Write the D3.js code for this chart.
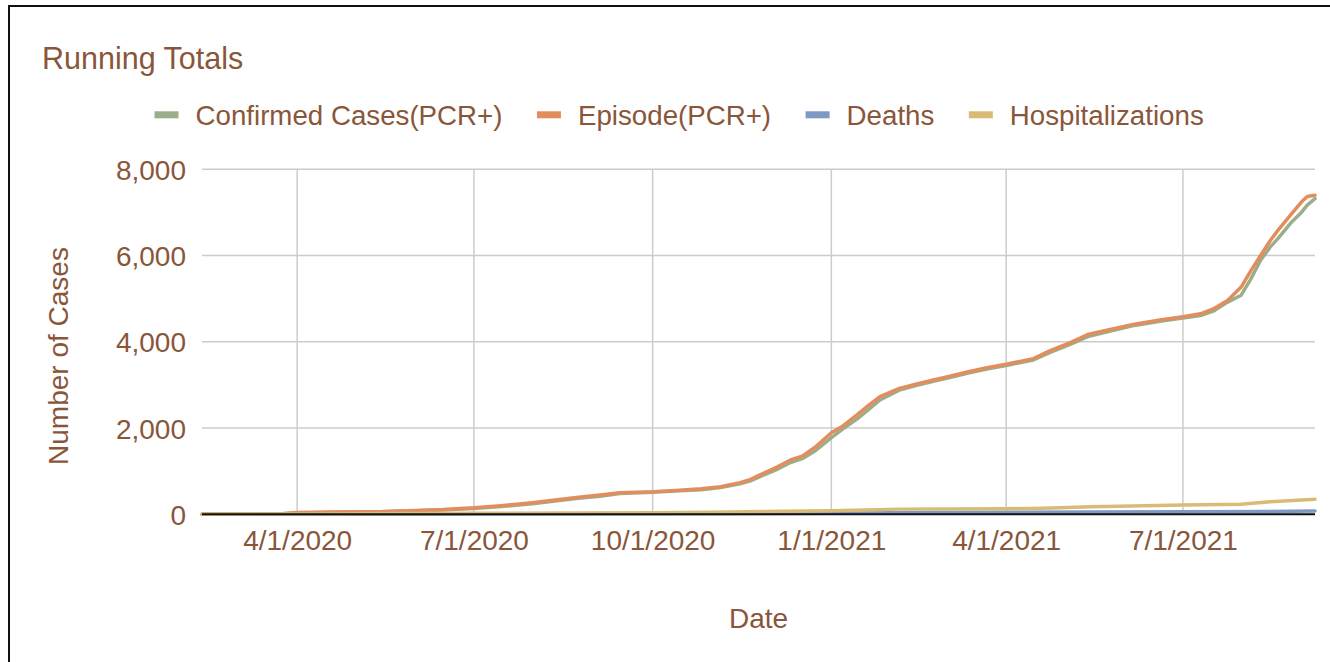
<!DOCTYPE html>
<html>
<head>
<meta charset="utf-8">
<script src="https://cdn.jsdelivr.net/npm/d3@7"></script>
<style>
  html, body { margin: 0; padding: 0; background: #fff; }
  svg { display: block; font-family: "Liberation Sans", Arial, sans-serif; }
</style>
</head>
<body>
<svg id="chart" width="1330" height="662"></svg>
<script>
// series names + colours
var seriesNames = ["Confirmed Cases(PCR+)", "Episode(PCR+)", "Deaths", "Hospitalizations"];
var seriesColors = ["#9bae89", "#e38d5f", "#7f97c3", "#d8bc76"];

// cases
var caseDates = ["2020-02-12","2020-03-10","2020-03-25","2020-04-01","2020-04-20","2020-05-15","2020-06-01","2020-06-15","2020-07-01","2020-07-15",
  "2020-07-31","2020-08-15","2020-08-25","2020-09-04","2020-09-14","2020-10-01","2020-10-15","2020-10-26","2020-11-05","2020-11-15",
  "2020-11-20","2020-11-25","2020-12-03","2020-12-11","2020-12-17","2020-12-24","2021-01-01","2021-01-07","2021-01-14","2021-01-20",
  "2021-01-26","2021-02-05","2021-02-14","2021-02-22","2021-03-03","2021-03-12","2021-03-22","2021-04-01","2021-04-15","2021-04-24",
  "2021-05-04","2021-05-13","2021-05-21","2021-06-06","2021-06-20","2021-07-01","2021-07-10","2021-07-17","2021-07-24","2021-07-31",
  "2021-08-05","2021-08-10","2021-08-15","2021-08-19","2021-08-26","2021-08-31","2021-09-03","2021-09-07"];
var episodeVals = [0,2,20,40,55,65,90,110,150,200,
  270,350,400,447,500,525,560,590,640,735,
  800,910,1070,1260,1350,1570,1890,2050,2300,2520,
  2730,2920,3020,3110,3200,3300,3400,3480,3610,3800,
  3980,4170,4250,4410,4510,4580,4650,4770,4960,5270,
  5650,6000,6350,6590,6970,7240,7370,7400];
var confirmedVals = [0,0,15,30,50,60,80,100,135,180,
  245,325,375,420,480,510,545,570,620,705,
  770,870,1020,1200,1290,1480,1780,1980,2200,2420,
  2650,2880,2990,3080,3170,3270,3370,3450,3580,3760,
  3940,4120,4210,4380,4480,4550,4610,4720,4920,5080,
  5460,5890,6200,6400,6780,7000,7170,7320];

// hospitalizations / deaths
var hospDates = ["2020-02-12","2020-04-01","2020-07-01","2020-10-01","2020-11-01","2021-01-01","2021-02-05","2021-04-01","2021-04-20","2021-05-15","2021-07-01","2021-07-31","2021-08-15","2021-09-07"];
var hospVals = [0,8,23,37,48,85,120,128,140,176,215,232,290,350];
var deathDates = ["2020-02-12","2020-04-01","2020-07-01","2020-10-01","2021-01-01","2021-02-15","2021-04-01","2021-07-01","2021-08-15","2021-09-07"];
var deathVals = [0,2,6,12,25,40,48,58,65,78];

var xTickDates = ["2020-04-01","2020-07-01","2020-10-01","2021-01-01","2021-04-01","2021-07-01"];
var yTicks = [0, 2000, 4000, 6000, 8000];

var parse = d3.timeParse("%Y-%m-%d");
var textColor = "#8a5639";

var svg = d3.select("#chart");

// frame (top + left edge only)
svg.append("path")
    .attr("d", "M9,662V6H1330")
    .attr("fill", "none")
    .attr("stroke", "#111")
    .attr("stroke-width", 2);

var plotLeft = 202, plotRight = 1315, plotTop = 169.3, plotBottom = 514.3;

var x = d3.scaleTime()
    .domain([parse("2020-02-12"), parse("2021-09-07")])
    .range([plotLeft, plotRight]);
var y = d3.scaleLinear()
    .domain([0, 8000])
    .range([plotBottom, plotTop]);

// gridlines
var grid = svg.append("g").attr("class", "grid");
grid.selectAll("line.h").data(yTicks).enter().append("line")
    .attr("class", "h")
    .attr("x1", plotLeft).attr("x2", plotRight)
    .attr("y1", d => y(d)).attr("y2", d => y(d))
    .style("stroke", "#cccccc").style("stroke-width", "1.5px");
grid.selectAll("line.v").data(xTickDates).enter().append("line")
    .attr("class", "v")
    .attr("x1", d => x(parse(d))).attr("x2", d => x(parse(d)))
    .attr("y1", plotTop).attr("y2", plotBottom)
    .style("stroke", "#cccccc").style("stroke-width", "1.5px");

// axes via d3 (domain/ticks hidden, labels restyled)
var yAxis = svg.append("g")
    .attr("transform", `translate(${plotLeft - 16},0)`)
    .call(d3.axisLeft(y).tickValues(yTicks).tickFormat(d3.format(",")).tickSize(0).tickPadding(0));
var xAxis = svg.append("g")
    .attr("transform", `translate(0,${plotBottom})`)
    .call(d3.axisBottom(x).tickValues(xTickDates.map(parse)).tickFormat(d3.timeFormat("%-m/%-d/%Y")).tickSize(0).tickPadding(0));
[yAxis, xAxis].forEach(function(a){
    a.select(".domain").remove();
    a.selectAll("text")
        .attr("fill", textColor)
        .style("font-size", "28px")
        .style("font-family", "'Liberation Sans', Arial, sans-serif");
});
yAxis.selectAll("text").attr("dy", "0.36em");
xAxis.selectAll("text").attr("dy", null).attr("y", 36);

// lines
function makeLine(dates, vals){
    return d3.line()
        .x((d, i) => x(parse(dates[i])))
        .y(d => y(d))(vals);
}
var linesG = svg.append("g").attr("class", "lines");
var lineData = [
    {dates: caseDates, vals: confirmedVals, color: seriesColors[0]},
    {dates: caseDates, vals: episodeVals, color: seriesColors[1]},
    {dates: deathDates, vals: deathVals, color: seriesColors[2]},
    {dates: hospDates, vals: hospVals, color: seriesColors[3]}
];
linesG.selectAll("path").data(lineData).enter().append("path")
    .attr("d", d => makeLine(d.dates, d.vals))
    .attr("fill", "none")
    .attr("stroke", d => d.color)
    .attr("stroke-width", 3.5)
    .attr("stroke-linejoin", "round")
    .attr("stroke-linecap", "round");

// baseline
svg.append("line")
    .attr("x1", plotLeft).attr("x2", plotRight)
    .attr("y1", plotBottom).attr("y2", plotBottom)
    .style("stroke", "#111").style("stroke-width", "2px");

// title
svg.append("text")
    .attr("x", 42).attr("y", 69)
    .attr("fill", textColor)
    .style("font-size", "30.5px")
    .text("Running Totals");

// legend
var legend = svg.append("g").attr("class", "legend");
var lx = 154.5;
seriesNames.forEach(function(name, i){
    legend.append("rect")
        .attr("x", lx).attr("y", 111.3)
        .attr("width", 24).attr("height", 7)
        .attr("fill", seriesColors[i]);
    var t = legend.append("text")
        .attr("x", lx + 41).attr("y", 124.5)
        .attr("fill", textColor)
        .style("font-size", "27.7px")
        .text(name);
    lx = lx + 41 + t.node().getComputedTextLength() + 34.5;
});

// axis titles
svg.append("text")
    .attr("transform", "translate(68,356) rotate(-90)")
    .attr("text-anchor", "middle")
    .attr("fill", textColor)
    .style("font-size", "28px")
    .text("Number of Cases");
svg.append("text")
    .attr("x", (plotLeft + plotRight) / 2).attr("y", 628)
    .attr("text-anchor", "middle")
    .attr("fill", textColor)
    .style("font-size", "28px")
    .text("Date");
</script>
</body>
</html>
